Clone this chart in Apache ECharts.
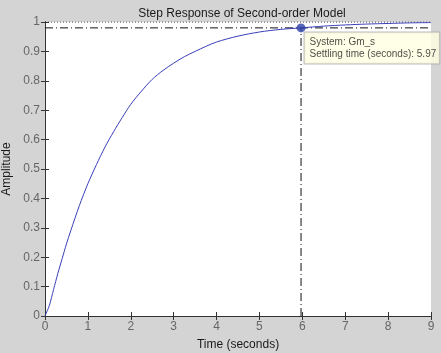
<!DOCTYPE html>
<html>
<head>
<meta charset="utf-8">
<script src="https://cdn.jsdelivr.net/npm/echarts@6/dist/echarts.min.js"></script>
<style>
  html, body { margin: 0; padding: 0; background: #d4d4d4; }
  #chart { width: 441px; height: 353px; }
</style>
</head>
<body>
<div id="chart"></div>
<script>
// step response
var times = [0, 0.1, 0.2, 0.3, 0.4, 0.5, 0.6, 0.8, 1.0, 1.2, 1.4, 1.6, 1.8, 2.0, 2.25, 2.5, 2.75, 3.0, 3.25, 3.5, 3.75, 4.0, 4.5, 5.0, 5.5, 5.97, 6.5, 7.0, 7.5, 8.0, 8.5, 9.0];
var amplitude = [0, 0.035, 0.09, 0.145, 0.195, 0.245, 0.29, 0.375, 0.45, 0.515, 0.575, 0.627, 0.675, 0.72, 0.765, 0.805, 0.835, 0.86, 0.882, 0.9, 0.917, 0.932, 0.952, 0.966, 0.975, 0.98, 0.986, 0.99, 0.993, 0.995, 0.997, 0.998];
var xTicks = [0, 1, 2, 3, 4, 5, 6, 7, 8, 9];
var yTicks = [0, 0.1, 0.2, 0.3, 0.4, 0.5, 0.6, 0.7, 0.8, 0.9, 1];
var settlingTime = 5.97;
var settlingLevel = 0.98;
var finalValue = 1;
var systemName = 'Gm_s';

var chart = echarts.init(document.getElementById('chart'));

var curve = times.map(function (t, i) { return [t, amplitude[i]]; });
var dashDot = [8, 3, 1, 3];

var tickStyle = { show: true, inside: true, length: 4, lineStyle: { color: '#333', width: 1 } };

var option = {
    animation: false,
    backgroundColor: '#d4d4d4',
    textStyle: { fontFamily: 'Liberation Sans, Arial, sans-serif' },
    title: {
        text: 'Step Response of Second-order Model',
        left: 237,
        top: 3,
        textAlign: 'center',
        textStyle: { fontSize: 12, fontWeight: 'normal', color: '#1a1a1a' }
    },
    grid: {
        left: 45,
        right: 10,
        top: 22,
        bottom: 37,
        outerBoundsMode: 'none',
        containLabel: false,
        show: true,
        backgroundColor: '#fff',
        borderWidth: 0
    },
    xAxis: [{
        type: 'value',
        min: xTicks[0],
        max: xTicks[xTicks.length - 1],
        interval: 1,
        name: 'Time (seconds)',
        nameLocation: 'middle',
        nameGap: 23,
        nameTextStyle: { fontSize: 12, color: '#1a1a1a' },
        axisLine: { show: true, lineStyle: { color: '#333' } },
        axisTick: tickStyle,
        axisLabel: { color: '#666', fontSize: 12, margin: 5 },
        splitLine: { show: false }
    }, {
        type: 'value',
        position: 'top',
        min: xTicks[0],
        max: xTicks[xTicks.length - 1],
        interval: 1,
        axisLine: { show: true, lineStyle: { color: '#333', type: [1, 2] } },
        axisTick: tickStyle,
        axisLabel: { show: false },
        splitLine: { show: false }
    }],
    yAxis: [{
        type: 'value',
        min: yTicks[0],
        max: yTicks[yTicks.length - 1],
        interval: 0.1,
        name: 'Amplitude',
        nameLocation: 'middle',
        nameGap: 29,
        nameTextStyle: { fontSize: 12, color: '#1a1a1a' },
        axisLine: { show: true, lineStyle: { color: '#333' } },
        axisTick: tickStyle,
        axisLabel: {
            color: '#666', fontSize: 12, margin: 5,
            formatter: function (v) { return String(Math.round(v * 10) / 10); }
        },
        splitLine: { show: false }
    }, {
        type: 'value',
        position: 'right',
        min: yTicks[0],
        max: yTicks[yTicks.length - 1],
        interval: 0.1,
        axisLine: { show: true, lineStyle: { color: '#333' } },
        axisTick: tickStyle,
        axisLabel: { show: false },
        splitLine: { show: false }
    }],
    series: [{
        type: 'line',
        data: [[xTicks[0], settlingLevel], [xTicks[xTicks.length - 1], settlingLevel]],
        symbol: 'none',
        silent: true,
        lineStyle: { color: '#111', width: 1, type: dashDot }
    }, {
        type: 'line',
        data: [[settlingTime, 0], [settlingTime, settlingLevel]],
        symbol: 'none',
        silent: true,
        lineStyle: { color: '#111', width: 1, type: dashDot }
    }, {
        type: 'line',
        data: [[xTicks[0], finalValue], [xTicks[xTicks.length - 1], finalValue]],
        symbol: 'none',
        silent: true,
        lineStyle: { color: '#222', width: 1, type: [1, 2] }
    }, {
        type: 'line',
        data: curve,
        symbol: 'none',
        smooth: 0.3,
        lineStyle: { color: '#3b3fb8', width: 1 }
    }, {
        type: 'scatter',
        data: [[settlingTime, settlingLevel]],
        symbolSize: 9,
        itemStyle: { color: '#2d3ea8' },
        z: 5,
        label: {
            show: true,
            position: [8, 9],
            formatter: 'System: ' + systemName + '\nSettling time (seconds): ' + settlingTime.toFixed(2),
            backgroundColor: '#ffffe1',
            borderColor: '#aaa',
            borderWidth: 1,
            padding: [4, 3, 3, 5],
            color: '#1a1a1a',
            fontSize: 10,
            lineHeight: 12
        }
    }]
};

chart.setOption(option);
</script>
</body>
</html>
